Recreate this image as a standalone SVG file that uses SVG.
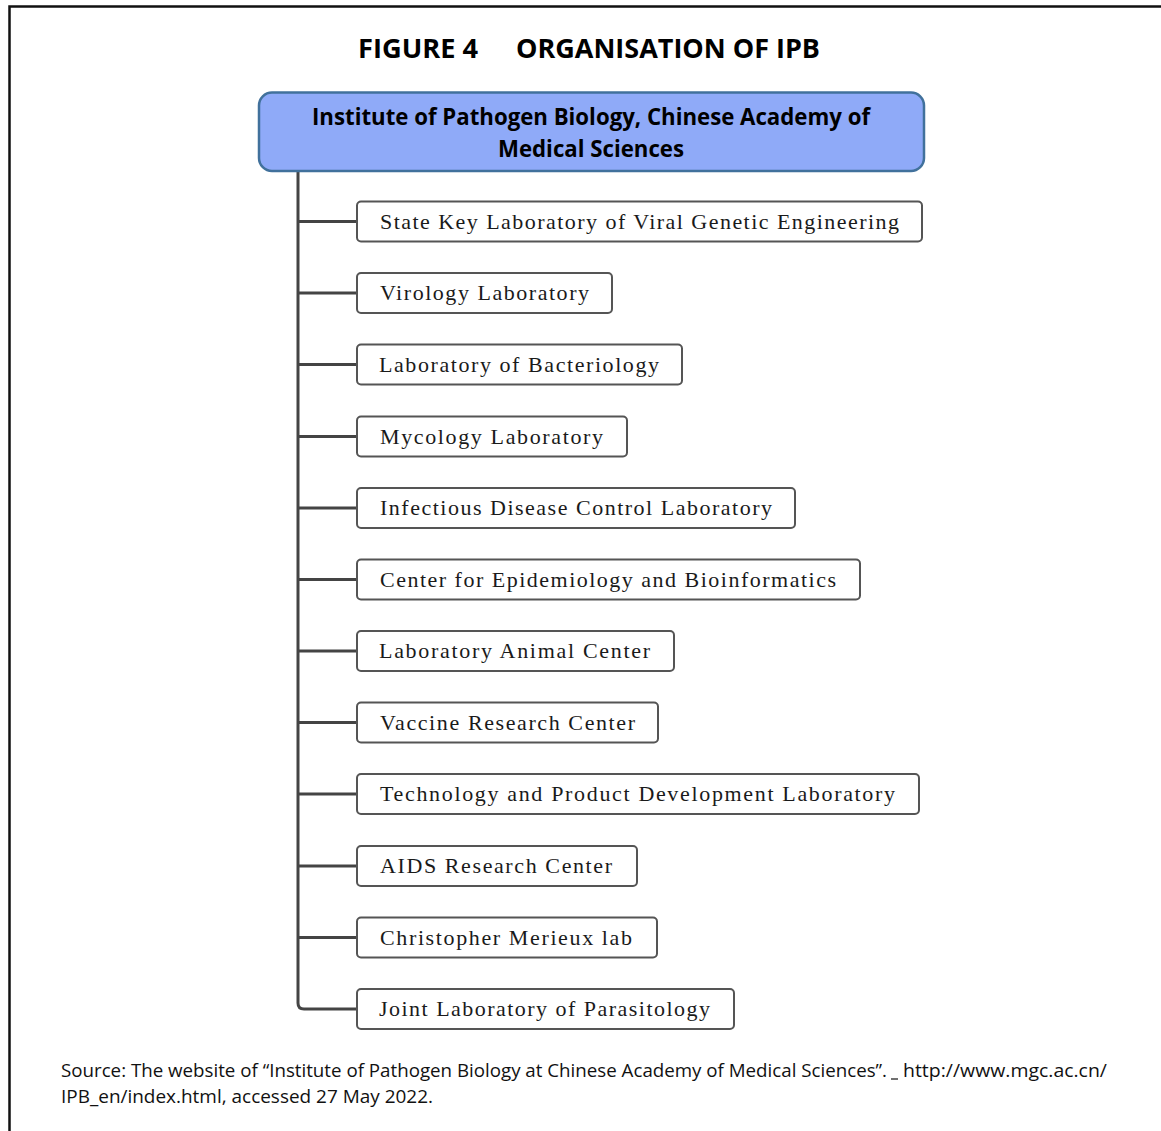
<svg xmlns="http://www.w3.org/2000/svg" width="1161" height="1131" viewBox="0 0 1161 1131">
<style>
.frame{fill:none;stroke:#111;stroke-width:2.5}
.title{font-family:"Open Sans","Liberation Sans",sans-serif;font-weight:bold;font-size:27px;fill:#000}
.root{fill:#8FAAF8;stroke:#41719C;stroke-width:2.5}
.roottxt{font-family:"Open Sans","Liberation Sans",sans-serif;font-weight:bold;font-size:23px;fill:#000;text-anchor:middle}
.box{fill:#fff;stroke:#555;stroke-width:2}
.lbl{font-family:"Liberation Serif","Times New Roman",serif;font-size:22px;fill:#1a1a1a}
.conn{fill:none;stroke:#444;stroke-width:3}
.src{font-family:"Open Sans","Liberation Sans",sans-serif;font-size:18px;fill:#111}
</style>
<rect width="1161" height="1131" fill="#fff"/>
<path class="frame" d="M9.5,1131 V6.5 H1161"/>
<g id="title">
<text class="title" x="358" y="58" textLength="120" lengthAdjust="spacingAndGlyphs">FIGURE 4</text>
<text class="title" x="516" y="58" textLength="304" lengthAdjust="spacingAndGlyphs">ORGANISATION OF IPB</text>
</g>
<g id="connectors">
<path class="conn" d="M298,171 V1003 Q298,1009 304,1009 H357"/>
<path class="conn" d="M298,221.5 H357 M298,293 H357 M298,364.5 H357 M298,436.5 H357 M298,508 H357 M298,579.5 H357 M298,651 H357 M298,722.5 H357 M298,794 H357 M298,866 H357 M298,937.5 H357"/>
</g>
<g id="root">
<rect class="root" x="259" y="92.5" width="665" height="78.5" rx="13"/>
<text class="roottxt" x="591" y="125" textLength="558" lengthAdjust="spacingAndGlyphs">Institute of Pathogen Biology, Chinese Academy of</text>
<text class="roottxt" x="591" y="157" textLength="186" lengthAdjust="spacingAndGlyphs">Medical Sciences</text>
</g>
<g id="n1"><rect class="box" x="357" y="201.5" width="565" height="40" rx="4"/><text class="lbl" x="380" y="228.5" textLength="519" lengthAdjust="spacing">State Key Laboratory of Viral Genetic Engineering</text></g>
<g id="n2"><rect class="box" x="357" y="273" width="255" height="40" rx="4"/><text class="lbl" x="380" y="300" textLength="209" lengthAdjust="spacing">Virology Laboratory</text></g>
<g id="n3"><rect class="box" x="357" y="344.5" width="325" height="40" rx="4"/><text class="lbl" x="379" y="371.5" textLength="280" lengthAdjust="spacing">Laboratory of Bacteriology</text></g>
<g id="n4"><rect class="box" x="357" y="416.5" width="270" height="40" rx="4"/><text class="lbl" x="380" y="443.5" textLength="223" lengthAdjust="spacing">Mycology Laboratory</text></g>
<g id="n5"><rect class="box" x="357" y="488" width="438" height="40" rx="4"/><text class="lbl" x="380" y="515" textLength="392" lengthAdjust="spacing">Infectious Disease Control Laboratory</text></g>
<g id="n6"><rect class="box" x="357" y="559.5" width="503" height="40" rx="4"/><text class="lbl" x="380" y="586.5" textLength="456" lengthAdjust="spacing">Center for Epidemiology and Bioinformatics</text></g>
<g id="n7"><rect class="box" x="357" y="631" width="317" height="40" rx="4"/><text class="lbl" x="379" y="658" textLength="271" lengthAdjust="spacing">Laboratory Animal Center</text></g>
<g id="n8"><rect class="box" x="357" y="702.5" width="301" height="40" rx="4"/><text class="lbl" x="380" y="729.5" textLength="255" lengthAdjust="spacing">Vaccine Research Center</text></g>
<g id="n9"><rect class="box" x="357" y="774" width="562" height="40" rx="4"/><text class="lbl" x="380" y="801" textLength="515" lengthAdjust="spacing">Technology and Product Development Laboratory</text></g>
<g id="n10"><rect class="box" x="357" y="846" width="280" height="40" rx="4"/><text class="lbl" x="380" y="873" textLength="232" lengthAdjust="spacing">AIDS Research Center</text></g>
<g id="n11"><rect class="box" x="357" y="917.5" width="300" height="40" rx="4"/><text class="lbl" x="380" y="944.5" textLength="252" lengthAdjust="spacing">Christopher Merieux lab</text></g>
<g id="n12"><rect class="box" x="357" y="989" width="377" height="40" rx="4"/><text class="lbl" x="379" y="1016" textLength="331" lengthAdjust="spacing">Joint Laboratory of Parasitology</text></g>
<g id="source">
<text class="src" x="61" y="1077" textLength="826" lengthAdjust="spacingAndGlyphs">Source: The website of “Institute of Pathogen Biology at Chinese Academy of Medical Sciences”.</text>
<line x1="891" y1="1079" x2="898" y2="1079" stroke="#111" stroke-width="1.2"/>
<text class="src" x="903" y="1077" textLength="204" lengthAdjust="spacingAndGlyphs">http://www.mgc.ac.cn/</text>
<text class="src" x="61" y="1103" textLength="372" lengthAdjust="spacingAndGlyphs">IPB_en/index.html, accessed 27 May 2022.</text>
</g>
</svg>
